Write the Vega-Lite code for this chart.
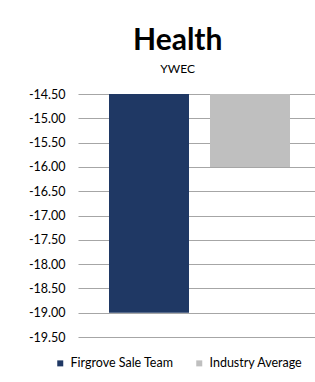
{
  "$schema": "https://vega.github.io/schema/vega-lite/v6.json",
  "width": 237,
  "height": 243,
  "padding": {"left": 28, "top": 26, "right": 0, "bottom": 0},
  "background": "white",
  "title": {
    "text": "Health",
    "subtitle": "YWEC",
    "anchor": "middle",
    "frame": "bounds",
    "dx": 6,
    "font": "Lato",
    "fontSize": 30,
    "fontWeight": "bold",
    "color": "#000000",
    "subtitleFont": "Lato",
    "subtitleFontSize": 12,
    "subtitleColor": "#000000",
    "subtitlePadding": 8,
    "offset": 13
  },
  "data": {
    "values": [
      {"series": "Firgrove Sale Team", "value": -19.0},
      {"series": "Industry Average", "value": -16.0}
    ]
  },
  "mark": {"type": "bar"},
  "encoding": {
    "x": {
      "field": "series",
      "type": "nominal",
      "scale": {"domain": ["Firgrove Sale Team", "Industry Average"], "range": [0, 243], "paddingInner": 0.208, "paddingOuter": 0.307},
      "axis": null
    },
    "y": {
      "field": "value",
      "type": "quantitative",
      "scale": {"domain": [-19.5, -14.5], "nice": false, "zero": false},
      "axis": {
        "title": null,
        "values": [-19.5, -19, -18.5, -18, -17.5, -17, -16.5, -16, -15.5, -15, -14.5],
        "format": ".2f",
        "domain": false,
        "ticks": false,
        "grid": true,
        "gridColor": "#a6a6a6",
        "gridWidth": 1.2,
        "labelFont": "Lato",
        "labelFontSize": 12.5,
        "labelColor": "#000000",
        "labelPadding": 13
      }
    },
    "y2": {"datum": -14.5},
    "color": {
      "field": "series",
      "type": "nominal",
      "scale": {"domain": ["Firgrove Sale Team", "Industry Average"], "range": ["#1f3864", "#bfbfbf"]},
      "legend": {
        "title": null,
        "orient": "none",
        "direction": "horizontal",
        "legendX": -24,
        "legendY": 263,
        "symbolType": "square",
        "symbolSize": 36,
        "symbolStrokeWidth": 0,
        "labelFont": "Lato",
        "labelFontSize": 12.5,
        "labelColor": "#000000",
        "labelOffset": 4,
        "columnPadding": 19
      }
    }
  },
  "config": {
    "view": {"stroke": null},
    "locale": {"number": {"decimal": ".", "thousands": ",", "grouping": [3], "currency": ["$", ""], "minus": "-"}}
  }
}
